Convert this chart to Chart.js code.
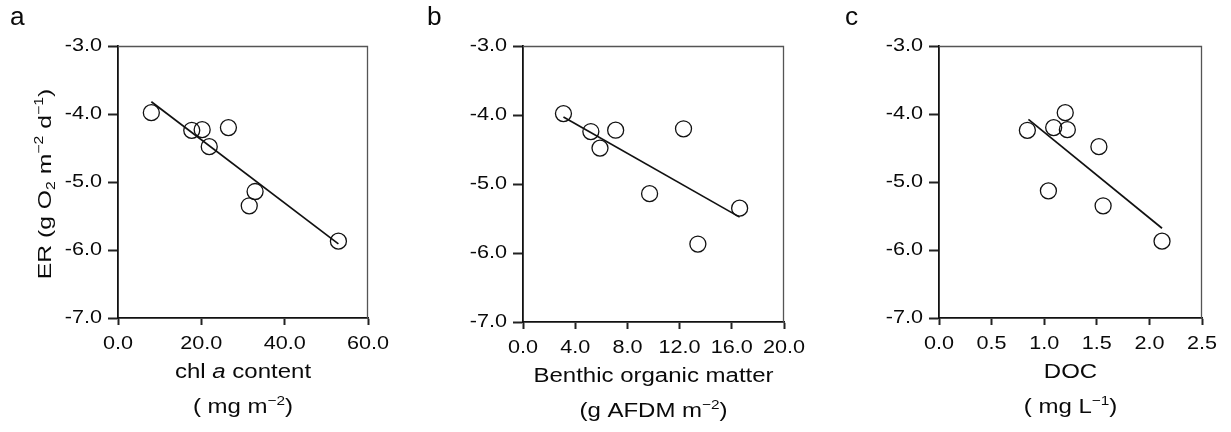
<!DOCTYPE html>
<html>
<head>
<meta charset="utf-8">
<script src="https://cdn.jsdelivr.net/npm/chart.js@4.4.1/dist/chart.umd.min.js"></script>
<style>
  html, body { margin: 0; padding: 0; background: #fff; }
  #wrap { position: relative; width: 1231px; height: 432px; overflow: hidden; background: #fff; }
  canvas { position: absolute; top: 0; }
</style>
</head>
<body>
<div id="wrap">
  <canvas id="ca" width="410" height="432" style="left:0px;width:410px;height:432px"></canvas>
  <canvas id="cb" width="410" height="432" style="left:410px;width:410px;height:432px"></canvas>
  <canvas id="cc" width="411" height="432" style="left:820px;width:411px;height:432px"></canvas>
</div>
<script>
// ---------------- data ----------------
const chlA      = [8.0, 17.7, 20.2, 26.5, 21.9, 32.9, 31.5, 52.9];
const erA       = [-3.98, -4.24, -4.23, -4.20, -4.48, -5.14, -5.35, -5.87];
const fitAx     = [8.0, 52.9];
const fitAy     = [-3.82, -5.91];

const benthicOM = [3.1, 5.2, 7.1, 5.9, 12.3, 9.7, 16.6, 13.4];
const erB       = [-3.98, -4.24, -4.22, -4.48, -4.20, -5.14, -5.35, -5.87];
const fitBx     = [3.1, 16.6];
const fitBy     = [-4.03, -5.48];

const docC      = [0.84, 1.09, 1.20, 1.22, 1.52, 1.04, 1.56, 2.12];
const erC       = [-4.24, -4.20, -3.98, -4.23, -4.48, -5.13, -5.35, -5.87];
const fitCx     = [0.85, 2.12];
const fitCy     = [-4.08, -5.68];

const yTicks    = [-7.0, -6.0, -5.0, -4.0, -3.0];
const xTicksA   = [0, 20, 40, 60];
const xTicksB   = [0, 4, 8, 12, 16, 20];
const xTicksC   = [0, 0.5, 1.0, 1.5, 2.0, 2.5];

const panelLetters = ['a', 'b', 'c'];
const yTitle = [{t: 'ER (g O'}, {t: '2', k: 'sub'}, {t: ' m'}, {t: '\u22122', k: 'sup'}, {t: ' d'}, {t: '\u22121', k: 'sup'}, {t: ')'}];
const xTitleA = [[{t: 'chl '}, {t: 'a', k: 'i'}, {t: ' content'}], [{t: '( mg m'}, {t: '\u22122', k: 'sup'}, {t: ')'}]];
const xTitleB = [[{t: 'Benthic organic matter'}], [{t: '(g AFDM m'}, {t: '\u22122', k: 'sup'}, {t: ')'}]];
const xTitleC = [[{t: 'DOC'}], [{t: '( mg L'}, {t: '\u22121', k: 'sup'}, {t: ')'}]];

// ---------------- helpers ----------------
const FONT = '"Liberation Sans", Arial, Helvetica, sans-serif';
const PROTO_FILL = CanvasRenderingContext2D.prototype.fillText;
const TICK_SX = 1.2;

function pts(xs, ys) { return xs.map((x, i) => ({x: x, y: ys[i]})); }

function drawRich(ctx, segs, x, y, size, sx, rot, align) {
  ctx.save();
  ctx.translate(x, y);
  if (rot) ctx.rotate(rot);
  ctx.textBaseline = 'alphabetic';
  ctx.textAlign = 'left';
  ctx.fillStyle = '#0a0a0a';
  const items = segs.map(s => {
    const small = s.k === 'sup' || s.k === 'sub';
    const fs = small ? size * 0.64 : size;
    const font = (s.k === 'i' ? 'italic ' : '') + fs + 'px ' + FONT;
    ctx.font = font;
    const w = ctx.measureText(s.t).width;
    const dy = s.k === 'sup' ? -size * 0.42 : (s.k === 'sub' ? size * 0.22 : 0);
    return {t: s.t, font: font, w: w, dy: dy};
  });
  const total = items.reduce((a, b) => a + b.w, 0);
  ctx.scale(sx, 1);
  let cx = align === 'left' ? 0 : -total / 2;
  items.forEach(it => { ctx.font = it.font; PROTO_FILL.call(ctx, it.t, cx, it.dy); cx += it.w; });
  ctx.restore();
}

function makePanelPlugin(cfg) {
  return {
    id: 'panelDeco' + cfg.letter,
    beforeDraw(chart) {
      const ctx = chart.ctx;
      if (!ctx.__stretched) {
        ctx.__stretched = true;
        ctx.fillText = function (t, x, y) {
          this.save(); this.translate(x, y); this.scale(TICK_SX, 1);
          PROTO_FILL.call(this, t, 0, 0); this.restore();
        };
      }
    },
    afterDraw(chart) {
      const ctx = chart.ctx;
      const a = chart.chartArea;
      // top and right frame lines (grey, thin)
      ctx.save();
      ctx.strokeStyle = '#555';
      ctx.lineWidth = 1.3;
      ctx.beginPath();
      ctx.moveTo(a.left, a.top + 0.5);
      ctx.lineTo(a.right - 0.5, a.top + 0.5);
      ctx.lineTo(a.right - 0.5, a.bottom);
      ctx.stroke();
      ctx.restore();
      const cx = (a.left + a.right) / 2;
      drawRich(ctx, cfg.xTitle[0], cx, a.bottom + 60, 20, 1.2, 0);
      drawRich(ctx, cfg.xTitle[1], cx, a.bottom + 95, 20, 1.2, 0);
      if (cfg.yTitle) {
        drawRich(ctx, cfg.yTitle, cfg.yTitleX, (a.top + a.bottom) / 2 + 2, 19, 1.3, -Math.PI / 2);
      }
      drawRich(ctx, [{t: cfg.letter}], cfg.letterX, 25, 25, 1.05, 0, 'left');
    }
  };
}

function makeChart(id, cfg) {
  const W = cfg.width, H = 432;
  return new Chart(document.getElementById(id), {
    data: {
      datasets: [
        {
          type: 'scatter',
          data: pts(cfg.xs, cfg.ys),
          pointRadius: 8,
          pointHoverRadius: 8,
          pointBorderWidth: 1.3,
          pointBorderColor: '#111',
          pointBackgroundColor: 'rgba(255,255,255,0)',
          showLine: false,
          order: 1
        },
        {
          type: 'line',
          data: pts(cfg.fx, cfg.fy),
          borderColor: '#111',
          borderWidth: 1.7,
          pointRadius: 0,
          fill: false,
          tension: 0,
          order: 2
        }
      ]
    },
    options: {
      responsive: false,
      animation: false,
      devicePixelRatio: 1,
      events: [],
      layout: { padding: { left: 0, top: cfg.top, right: W - cfg.right, bottom: 0 } },
      plugins: { legend: { display: false }, tooltip: { enabled: false } },
      scales: {
        x: {
          type: 'linear',
          position: 'bottom',
          min: cfg.xTicks[0],
          max: cfg.xTicks[cfg.xTicks.length - 1],
          afterBuildTicks: s => { s.ticks = cfg.xTicks.map(v => ({value: v})); },
          afterFit: s => { s.height = H - cfg.bottom; },
          ticks: {
            color: '#0a0a0a',
            font: { family: FONT, size: 18 },
            padding: 8,
            maxRotation: 0,
            autoSkip: false,
            callback: v => Number(v).toFixed(1)
          },
          grid: { drawOnChartArea: false, drawTicks: true, tickLength: 7, tickWidth: 2, tickColor: '#222' },
          border: { display: true, color: '#111', width: 1.8 }
        },
        y: {
          type: 'linear',
          position: 'left',
          min: yTicks[0],
          max: yTicks[yTicks.length - 1],
          afterBuildTicks: s => { s.ticks = yTicks.map(v => ({value: v})); },
          afterFit: s => { s.width = cfg.left; },
          ticks: {
            color: '#0a0a0a',
            font: { family: FONT, size: 18 },
            padding: 6,
            autoSkip: false,
            callback: v => Number(v).toFixed(1)
          },
          grid: { drawOnChartArea: false, drawTicks: true, tickLength: 10, tickWidth: 2, tickColor: '#222' },
          border: { display: true, color: '#111', width: 1.8 }
        }
      }
    },
    plugins: [makePanelPlugin(cfg)]
  });
}

makeChart('ca', { width: 410, left: 118, right: 368, top: 46, bottom: 318,
  xs: chlA, ys: erA, fx: fitAx, fy: fitAy, xTicks: xTicksA,
  xTitle: xTitleA, yTitle: yTitle, yTitleX: 51, letter: panelLetters[0], letterX: 10 });
makeChart('cb', { width: 410, left: 113, right: 374, top: 46, bottom: 322,
  xs: benthicOM, ys: erB, fx: fitBx, fy: fitBy, xTicks: xTicksB,
  xTitle: xTitleB, yTitle: null, letter: panelLetters[1], letterX: 17 });
makeChart('cc', { width: 411, left: 119, right: 382, top: 46, bottom: 318,
  xs: docC, ys: erC, fx: fitCx, fy: fitCy, xTicks: xTicksC,
  xTitle: xTitleC, yTitle: null, letter: panelLetters[2], letterX: 25 });
</script>
</body>
</html>
